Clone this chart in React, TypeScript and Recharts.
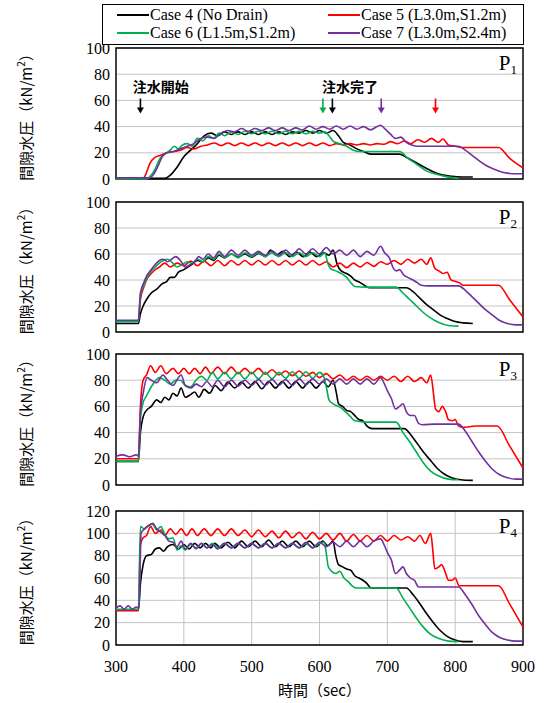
import React from "react";
import {
  LineChart,
  Line,
  XAxis,
  YAxis,
  CartesianGrid,
  ReferenceArea,
  ReferenceDot,
} from "recharts";

const xTicks = [300, 400, 500, 600, 700, 800, 900];
const yTicks100 = [0, 20, 40, 60, 80, 100];
const yTicks120 = [0, 20, 40, 60, 80, 100, 120];

const caseNames = [
  "Case 4 (No Drain)",
  "Case 5 (L3.0m,S1.2m)",
  "Case 6 (L1.5m,S1.2m)",
  "Case 7 (L3.0m,S2.4m)",
];
const caseColors = ["#000000", "#ff0000", "#00b050", "#7030a0"];

// P1
const p1Case4 = [[300,0.5],[372,0.5],[380,3],[390,9],[400,17],[410,22],[420,27],[430,33],[440,35],[450,33],[460,36],[470,34],[480,36],[490,34],[500,36],[510,34],[520,36],[530,34],[540,36],[550,34],[560,36],[570,35],[580,37],[590,35],[600,37],[610,35],[620,37],[628,33],[635,28],[645,26],[655,23],[665,21],[675,19],[700,19],[718,19],[730,16],[744,12],[758,8],[770,5],[782,3],[795,2],[810,1.5],[826,1.5]];
const p1Case5 = [[300,0.5],[340,0.5],[345,5],[350,12],[356,16],[365,18],[375,20],[385,21],[395,22],[405,24],[415,23],[425,25],[435,26],[445,27.5],[455,25.5],[465,27.5],[475,25.5],[485,27.5],[495,25.5],[505,27.5],[515,25.5],[525,27.5],[535,25.5],[545,27.5],[555,25.5],[565,27.5],[575,25.5],[585,27.5],[595,25.5],[605,27.5],[615,25.5],[625,27],[635,26],[645,27],[655,26],[665,27],[675,26],[685,27],[695,26.5],[705,28.5],[715,27],[725,29],[735,27],[745,30],[755,28],[765,31],[775,28],[782,30.5],[790,26],[800,25],[810,24],[830,24],[864,24],[880,16],[900,8.5]];
const p1Case6 = [[300,0],[345,0],[352,3],[358,8],[364,15],[372,19],[380,22],[386,25],[392,23],[398,26],[405,27],[412,25],[420,31],[428,29],[436,33],[444,31],[452,35],[460,33],[470,36],[480,34],[490,36.5],[500,34.5],[510,36.5],[520,34.5],[530,36.5],[540,34.5],[550,36.5],[560,34.5],[570,36.5],[580,34.5],[590,36.5],[600,35],[608,36],[614,33],[620,29],[630,27],[640,25],[650,22],[660,21],[700,21],[718,21],[730,16],[744,11],[758,6],[770,4],[785,2],[805,0.5]];
const p1Case7 = [[300,1],[350,1],[356,4],[362,10],[368,17],[375,20],[385,21],[395,23],[405,25],[415,27],[425,31],[435,32],[445,31],[455,35],[465,37],[475,36],[485,38.5],[495,36.5],[505,38.5],[515,37],[525,39],[535,37],[545,39],[555,37],[565,39],[575,37.5],[585,40.5],[595,38],[605,40],[615,38],[625,40.5],[635,38],[645,40.5],[655,38],[665,40],[675,37.5],[685,40],[690,41],[697,38],[705,34],[712,31],[720,32],[728,28],[736,26],[745,25],[760,25],[805,25],[815,22],[825,18],[835,14],[845,10.5],[855,8],[865,6],[877,4.5],[890,4],[900,4]];

// P2
const p2Case4 = [[300,6.5],[333,6.5],[336,14],[340,20],[345,25],[352,30],[360,33],[368,37],[375,39],[380,42],[386,42],[392,46],[400,48],[406,50],[412,52],[420,55],[428,54],[436,57],[444,55],[452,59],[460,57],[470,60],[480,57.5],[490,60],[500,57.5],[510,60.5],[520,58],[528,63],[536,59],[546,62],[556,58],[566,61.5],[576,58],[586,61.5],[596,58],[606,61],[614,59],[620,63],[626,52],[632,47],[640,45],[646,43],[652,40],[660,38],[666,36],[674,34],[700,34],[728,34],[738,31],[748,26],[758,21],[768,17],[778,13],[790,10],[800,8],[812,7],[826,6.5]];
const p2Case5 = [[300,8.5],[333,8.5],[336,25],[340,33],[345,40],[352,45],[358,48],[364,50],[372,53],[380,50],[390,53],[400,51],[410,54.5],[420,51],[430,54.5],[440,51],[450,55],[460,51],[470,55],[480,51.5],[490,55],[500,51.5],[510,55],[520,51.5],[530,55],[540,51.5],[550,55],[560,51.5],[570,55],[580,51.5],[590,55],[600,51.5],[610,54],[620,50],[630,53],[640,49.5],[650,53],[660,50],[670,53.5],[680,50.5],[690,54],[700,52],[710,55],[720,52],[730,56],[740,53],[750,56],[758,52],[764,57],[770,49],[776,47],[782,45],[788,46],[794,40],[800,39],[806,38],[812,36],[830,36],[864,36],[880,25],[900,11.5]];
const p2Case6 = [[300,8],[333,8],[336,28],[341,36],[346,42],[352,47],[358,50],[364,53],[370,55],[376,56],[382,54],[390,50],[398,52],[405,54],[412,53],[420,56],[428,54],[436,58],[444,56],[452,60],[460,57],[470,60],[480,57],[490,61],[500,58],[510,61],[520,58],[530,61],[540,58],[550,61],[560,58],[570,61],[580,58],[590,61],[600,58],[608,61],[612,53],[616,49],[624,47],[632,45],[640,42],[646,38],[652,35],[670,34.5],[713,34.5],[723,30],[733,25],[743,20],[753,15],[763,11],[775,7.5],[790,5],[805,4.5]];
const p2Case7 = [[300,9],[333,9],[336,30],[341,38],[346,44],[352,48],[358,52],[364,55],[370,56],[376,54],[382,56],[388,58],[395,55],[402,50],[410,52],[416,54],[422,58],[428,56],[436,60],[444,57],[452,62],[460,58],[470,63],[480,59],[490,63],[500,59],[510,62],[520,59],[530,62.5],[540,59],[550,63],[560,59],[570,64],[580,60],[590,64],[600,60],[610,65],[620,60],[630,63],[640,59],[650,63],[660,58],[670,62],[680,59],[690,66],[696,61],[703,57],[708,50],[713,47],[718,48],[724,44],[730,42],[738,40],[744,38],[750,36],[760,35.5],[805,35.5],[815,32],[825,27],[835,22],[845,17],[855,13],[865,9],[877,6.5],[890,5.5],[900,5.5]];

// P3
const p3Case4 = [[300,18],[333,18],[336,40],[340,52],[345,57],[352,60],[360,65],[366,63],[372,67],[378,65],[384,70],[390,68],[396,74],[402,67],[410,69],[416,71],[422,67],[430,73],[438,70],[446,76],[455,72],[465,78.5],[475,74],[485,78.5],[495,74],[505,79],[515,73.5],[525,79],[535,74],[545,79],[555,74],[565,79],[575,74],[585,79],[595,74],[605,79],[613,75],[620,80],[625,70],[628,62],[634,60],[640,57],[646,56],[652,53],[658,50],[664,49],[670,45],[678,43],[690,43],[725,43],[735,38],[745,31],[755,24],[765,18],[775,12],[785,8],[795,5.5],[808,4],[826,3.5]];
const p3Case5 = [[300,20],[333,20],[336,60],[340,80],[345,84],[351,91],[358,86],[366,91],[374,85],[384,89],[392,85],[400,89],[408,85],[416,89],[424,85],[432,90],[440,85],[450,90],[460,85],[470,90],[480,85],[490,89],[500,85],[510,89],[520,84.5],[530,88],[540,84],[550,87],[560,83.5],[570,87],[580,83],[590,86],[600,82],[610,85],[620,81],[630,84],[640,80],[650,83],[660,80],[670,83],[680,80],[690,83],[700,80],[710,83],[720,79],[730,83],[740,79],[750,82],[758,78],[764,84],[768,70],[771,58],[776,56],[781,60],[786,56],[790,50],[796,49],[800,50],[805,45],[812,44],[830,45],[862,45],[880,30],[900,13]];
const p3Case6 = [[300,18],[333,18],[336,50],[340,63],[345,68],[352,75],[359,80],[364,82],[372,80],[380,77],[388,80],[395,80],[402,76],[410,75],[418,80],[426,83],[434,80],[442,86],[450,81],[460,86],[470,81],[480,86],[490,81],[500,86],[510,81],[520,86],[530,81],[540,86],[550,81.5],[560,86.5],[570,81.5],[580,86.5],[590,81.5],[600,86],[606,83],[610,75],[614,65],[620,62],[628,60],[634,58],[640,55],[646,52],[652,49],[670,48],[713,48],[723,40],[733,33],[743,25],[753,17],[763,11],[775,7],[790,4.5],[805,4]];
const p3Case7 = [[300,22],[310,23],[320,21.5],[330,23],[333,22],[336,55],[340,70],[346,82],[352,80],[360,78],[369,84],[376,80],[384,76],[392,82],[396,84],[402,76],[410,74],[418,77],[426,75],[434,79],[442,75],[450,80],[460,75],[470,80],[480,75.5],[490,80],[500,76],[510,80.5],[520,76],[530,80.5],[540,76],[550,80.5],[560,76],[570,81],[580,76.5],[590,81],[600,77],[610,81],[620,77],[630,81],[640,77],[650,81],[660,77],[670,81],[680,77],[690,82],[695,78],[700,72],[706,66],[712,58],[718,60],[723,62],[728,56],[734,53],[740,53],[746,47],[752,46],[770,46.5],[805,46.5],[815,41],[825,33],[835,25],[845,18],[855,12],[865,8],[877,5.5],[890,4.5],[900,4.5]];

// P4
const p4Case4 = [[300,31],[333,31],[336,55],[340,72],[345,80],[352,81],[358,86],[364,87],[370,84],[376,88],[384,90],[392,86],[400,90],[408,86],[416,91],[424,87],[432,91],[440,87],[445,91],[455,87],[465,92],[475,87],[485,93],[495,88],[505,93],[515,88],[525,94],[535,88],[545,93],[555,88],[565,93],[575,88],[585,93],[595,88],[605,93],[612,89],[620,93],[624,80],[628,72],[634,70],[640,68],[646,67],[652,62],[658,60],[664,58],[670,55],[676,51],[690,51],[728,51],[738,45],[748,37],[758,28],[768,20],[778,13],[790,7],[800,4.5],[812,3],[826,3]];
const p4Case5 = [[300,31],[333,31],[336,90],[340,96],[345,98],[351,106],[358,100],[366,103],[372,98],[380,104],[388,99],[396,104],[404,98],[412,104],[420,98],[430,104],[440,98],[450,104],[460,98],[470,104],[480,98],[490,103],[500,97],[510,103],[520,97],[530,102],[540,96],[550,102],[560,96],[570,101],[580,95],[590,101],[600,95],[610,100],[620,94],[630,100],[640,93],[650,99],[660,93],[670,98],[680,93],[690,98],[700,93],[710,98],[720,94],[730,97],[740,93],[748,98],[756,91],[764,100],[767,85],[770,68],[776,70],[780,72],[786,64],[790,58],[796,58],[800,60],[806,53],[820,53],[864,53],[880,37],[900,16]];
const p4Case6 = [[300,32],[333,32],[336,106],[342,104],[348,107],[354,108],[360,103],[366,106],[372,99],[378,95],[384,96],[390,85],[396,89],[402,85],[410,90],[418,87],[426,91],[434,87],[442,91],[450,87],[460,91],[470,87],[480,91],[490,87],[500,91],[510,87],[520,91],[530,87],[540,91],[550,87],[560,91],[570,87],[580,91],[590,87],[600,91],[607,92],[610,82],[613,70],[618,66],[624,64],[630,66],[636,60],[642,57],[648,53],[654,51],[670,51],[713,51],[723,42],[733,33],[743,24],[753,16],[763,10],[775,6],[790,3.5],[805,3]];
const p4Case7 = [[300,33],[306,35],[312,32],[318,35],[324,32],[330,34],[334,33],[337,100],[342,104],[348,107],[354,109],[360,104],[366,101],[372,98],[378,93],[384,92],[390,88],[396,93],[402,86],[410,91],[418,86],[426,91],[434,87],[442,90],[450,86],[460,91],[470,87],[480,91],[490,87],[500,91],[510,87],[520,91],[530,87],[540,91],[550,87],[560,91],[570,87],[580,92],[590,87],[600,92],[610,88],[620,92],[630,88],[640,93],[650,88],[660,93],[670,88],[680,93],[690,95],[695,90],[700,83],[706,76],[712,64],[718,67],[723,70],[728,64],[734,60],[740,58],[746,52],[760,52],[805,52],[815,45],[825,36],[835,26],[845,18],[855,11],[865,7],[877,4.5],[890,3.5],[900,3.5]];

// 注水 arrows in P1: [time, case index]
const startArrow = { t: 336, c: 0 };
const endArrows = [
  { t: 605, c: 2 },
  { t: 619, c: 0 },
  { t: 691, c: 3 },
  { t: 771, c: 1 },
];

const toPts = (a: number[][]) => a.map(([t, v]) => ({ t, v }));

const panels = [
  { n: "1", top: 48, h: 131, yMax: 100, yTicks: yTicks100, series: [p1Case4, p1Case5, p1Case6, p1Case7] },
  { n: "2", top: 202, h: 130, yMax: 100, yTicks: yTicks100, series: [p2Case4, p2Case5, p2Case6, p2Case7] },
  { n: "3", top: 354, h: 131, yMax: 100, yTicks: yTicks100, series: [p3Case4, p3Case5, p3Case6, p3Case7] },
  { n: "4", top: 511, h: 134, yMax: 120, yTicks: yTicks120, series: [p4Case4, p4Case5, p4Case6, p4Case7] },
];

const serif = "'Liberation Serif', 'Times New Roman', serif";
const jp = "'Noto Sans CJK JP', sans-serif";
const tickStyle = { fill: "#000", fontSize: 16, fontFamily: serif };

const YTitle = (props: any) => {
  const vb = props.viewBox;
  const cx = 25;
  const cy = vb.y + vb.height / 2;
  return (
    <text
      x={cx}
      y={cy}
      transform={`rotate(-90 ${cx} ${cy})`}
      textAnchor="middle"
      dominantBaseline="central"
      fontFamily={jp}
      fontSize={15}
      fill="#000"
    >
      間隙水圧（kN/m
      <tspan dy={-5} fontSize={10}>2</tspan>
      <tspan dy={5}>）</tspan>
    </text>
  );
};

const XTitle = (props: any) => {
  const vb = props.viewBox;
  return (
    <text x={vb.x + vb.width / 2} y={vb.y + 51} textAnchor="middle" fontFamily={jp} fontSize={15} fill="#000">
      時間（sec）
    </text>
  );
};

const Arrow = ({ cx, cy, color }: any) => (
  <g>
    <line x1={cx} x2={cx} y1={cy - 15} y2={cy - 5} stroke={color} strokeWidth={1.6} />
    <polygon points={`${cx - 3.5},${cy - 6} ${cx + 3.5},${cy - 6} ${cx},${cy}`} fill={color} />
  </g>
);

const Note = ({ cx, cy, text }: any) => (
  <text x={cx} y={cy + 5} textAnchor="middle" fontFamily={jp} fontWeight="bold" fontSize={14} fill="#000">
    {text}
  </text>
);

const Tag = ({ cx, cy, n }: any) => (
  <text x={cx - 6} y={cy + 22} textAnchor="end" fontFamily={serif} fontSize={21} fill="#000">
    P<tspan fontSize={13} dy={4}>{n}</tspan>
  </text>
);

function Panel({ p, last }: any) {
  const mt = 10;
  const mb = last ? 8 : 10;
  const xh = last ? 50 : 0;
  return (
    <div style={{ position: "absolute", left: 0, top: p.top - mt, fontFamily: serif }}>
      <LineChart
        width={544}
        height={p.h + mt + mb + xh}
        margin={{ top: mt, right: 21, bottom: mb, left: 0 }}
        style={{ fontFamily: serif }}
      >
        <CartesianGrid stroke="#c4c4c4" strokeWidth={1} />
        <XAxis
          type="number"
          dataKey="t"
          domain={[300, 900]}
          ticks={xTicks}
          height={xh}
          axisLine={false}
          tickLine={false}
          tick={last ? tickStyle : false}
          tickSize={6}
          tickMargin={10}
          label={last ? { content: (lp: any) => <XTitle {...lp} /> } : undefined}
        />
        <YAxis
          type="number"
          domain={[0, p.yMax]}
          ticks={p.yTicks}
          width={116}
          axisLine={false}
          tickLine={false}
          tick={tickStyle}
          tickSize={4}
          tickMargin={2}
          interval={0}
          label={{ content: (lp: any) => <YTitle {...lp} /> }}
        />
        <ReferenceArea x1={300} x2={900} y1={0} y2={p.yMax} fill="none" stroke="#000" strokeWidth={1.4} />
        {p.series.map((s: number[][], i: number) => (
          <Line
            key={i}
            data={toPts(s)}
            dataKey="v"
            name={caseNames[i]}
            type="monotone"
            stroke={caseColors[i]}
            strokeWidth={1.6}
            dot={false}
            activeDot={false}
            isAnimationActive={false}
          />
        ))}
        <ReferenceDot x={900} y={p.yMax} r={0} shape={(sp: any) => <Tag cx={sp.cx} cy={sp.cy} n={p.n} />} />
        {p.n === "1" && (
          <ReferenceDot x={366} y={70} r={0} shape={(sp: any) => <Note cx={sp.cx} cy={sp.cy} text="注水開始" />} />
        )}
        {p.n === "1" && (
          <ReferenceDot x={645} y={70} r={0} shape={(sp: any) => <Note cx={sp.cx} cy={sp.cy} text="注水完了" />} />
        )}
        {p.n === "1" &&
          [startArrow, ...endArrows].map((a, i) => (
            <ReferenceDot
              key={"a" + i}
              x={a.t}
              y={50}
              r={0}
              shape={(sp: any) => <Arrow cx={sp.cx} cy={sp.cy} color={caseColors[a.c]} />}
            />
          ))}
      </LineChart>
    </div>
  );
}

function LegendBox() {
  const cols = [
    [0, 2],
    [1, 3],
  ];
  return (
    <div
      style={{
        position: "absolute",
        left: 102,
        top: 4,
        width: 420,
        height: 39,
        border: "1px solid #000",
        background: "#fff",
        fontFamily: serif,
        fontSize: 16,
        color: "#000",
      }}
    >
      {cols.map((col, ci) =>
        col.map((idx, ri) => (
          <div
            key={idx}
            style={{
              position: "absolute",
              left: ci === 0 ? 14 : 225,
              top: 1 + ri * 18,
              height: 18,
              display: "flex",
              alignItems: "center",
              whiteSpace: "nowrap",
            }}
          >
            <span style={{ display: "inline-block", width: 32, height: 2, background: caseColors[idx], marginRight: 1 }} />
            <span>{caseNames[idx]}</span>
          </div>
        ))
      )}
    </div>
  );
}

export default function App() {
  return (
    <div style={{ position: "absolute", left: 0, top: 0, width: 544, height: 703, background: "#fff", fontFamily: serif }}>
      {panels.map((p, i) => (
        <Panel key={p.n} p={p} last={i === panels.length - 1} />
      ))}
      <LegendBox />
    </div>
  );
}
